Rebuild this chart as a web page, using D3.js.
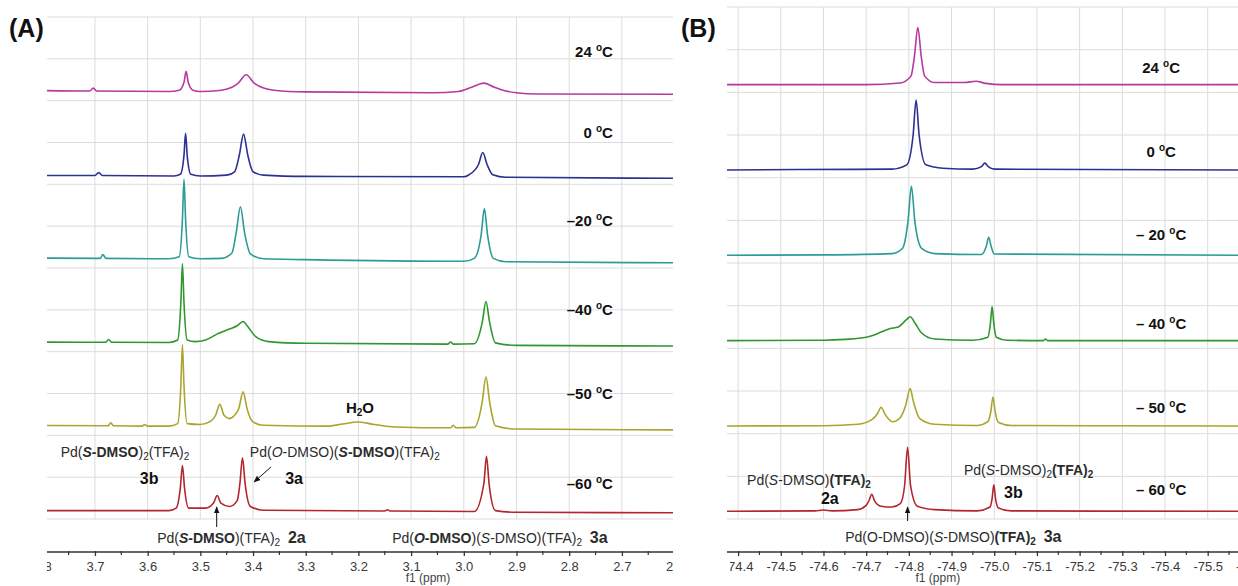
<!DOCTYPE html>
<html>
<head>
<meta charset="utf-8">
<script src="https://cdn.jsdelivr.net/npm/d3@7"></script>
<style>
body { margin: 0; background: #fff; }
svg { display: block; font-family: "Liberation Sans", Arial, sans-serif; }
text { white-space: pre; }
</style>
</head>
<body>
<svg id="chart" width="1238" height="586"></svg>
<script>
// rows, top to bottom
const tempsA = ["24 ", "0 ", "–20 ", "–40 ", "–50 ", "–60 "]
const tempsB = ["24 ", "0 ", "– 20 ", "– 40 ", "– 50 ", "– 60 "]
const colors = ["#b53a9c", "#2c3093", "#2b9b97", "#2f972f", "#a9a52d", "#b3262e"]

// ppm window of each panel
const rangeA = [3.791, 2.603]
const rangeB = [-74.374, -75.571]

const ticksA = [3.8, 3.7, 3.6, 3.5, 3.4, 3.3, 3.2, 3.1, 3.0, 2.9, 2.8, 2.7, 2.6]
const tickLabelsA = ["3.8", "3.7", "3.6", "3.5", "3.4", "3.3", "3.2", "3.1", "3.0", "2.9", "2.8", "2.7", "2.6"]
const ticksB = [-74.4, -74.5, -74.6, -74.7, -74.8, -74.9, -75.0, -75.1, -75.2, -75.3, -75.4, -75.5, -75.6]
const tickLabelsB = ["-74.4", "-74.5", "-74.6", "-74.7", "-74.8", "-74.9", "-75.0", "-75.1", "-75.2", "-75.3", "-75.4", "-75.5", "-75.6"]

// (A) 1H spectra, [ppm, intensity]  (100 = one row step)
const h1_24 = [[3.791,2],[3.71,1.5],[3.703,5],[3.697,1.5],[3.56,1],[3.54,2.5],[3.531,12],[3.527,25],[3.523,12],[3.514,2.5],[3.50,1],
  [3.46,2.5],[3.44,6],[3.428,11],[3.413,21],[3.398,11],[3.38,5],[3.36,2.5],[3.30,0.5],
  [3.06,-0.5],[3.01,1],[2.985,6],[2.962,11],[2.942,6],[2.92,1.5],[2.90,-0.5],[2.86,-2],[2.603,-2.4]]
const h1_0 = [[3.791,0.5],[3.70,0.5],[3.693,4],[3.686,0.5],[3.55,0],[3.538,2],[3.531,25],[3.528,51],[3.525,25],[3.518,2],[3.50,0],
  [3.45,1],[3.435,5],[3.426,25],[3.418,50],[3.410,25],[3.40,5],[3.38,1],[3.30,-0.5],
  [3.00,-1],[2.99,1.5],[2.972,14],[2.964,28],[2.956,14],[2.945,1.5],[2.92,-1.5],[2.603,-2.7]]
const h1_m20 = [[3.791,1.8],[3.69,1.5],[3.685,6],[3.679,1.5],[3.56,1],[3.54,3.5],[3.534,48],[3.531,96],[3.528,48],[3.522,3.5],[3.50,1],
  [3.46,1.5],[3.44,8],[3.432,32],[3.424,63],[3.416,32],[3.405,7],[3.38,1],[3.30,0],
  [3.00,-2],[2.98,1.5],[2.967,30],[2.961,61],[2.955,30],[2.944,1.5],[2.92,-2.5],[2.603,-3.8]]
const h1_m40 = [[3.791,1.4],[3.68,1.2],[3.674,4.5],[3.668,1.2],[3.56,1],[3.543,4],[3.537,48],[3.534,95],[3.531,48],[3.525,4],[3.51,2],
  [3.49,4],[3.465,12],[3.445,17],[3.43,21],[3.419,26],[3.41,20],[3.395,8],[3.37,2],[3.30,0],
  [3.03,-1],[3.025,1.5],[3.02,-1],[2.98,-0.5],[2.965,25],[2.958,50],[2.951,25],[2.94,0.5],[2.90,-2.5],[2.603,-3.2]]
const h1_m50 = [[3.791,1.8],[3.675,1.5],[3.67,5],[3.665,1.5],[3.61,1],[3.606,3],[3.60,1],[3.56,1],[3.543,4],[3.537,49],[3.534,98],[3.531,49],[3.525,4],[3.50,3],
  [3.48,7],[3.471,14],[3.463,27],[3.455,14],[3.445,10],[3.435,14],[3.427,22],[3.419,42],[3.411,21],[3.40,6],[3.38,2],
  [3.26,1],[3.23,3.5],[3.202,6],[3.17,3],[3.13,0],
  [3.025,-1],[3.02,2],[3.015,-1],[2.98,-0.5],[2.965,30],[2.958,60],[2.951,30],[2.94,1.5],[2.90,-2.5],[2.603,-3.5]]
const h1_m60 = [[3.791,0],[3.56,0],[3.546,3],[3.538,27],[3.534,54],[3.530,27],[3.522,3],
  [3.49,3],[3.475,9],[3.468,18],[3.461,9],[3.445,5],[3.43,12],[3.425,32],[3.42,63],[3.415,32],[3.405,5],[3.38,0.5],
  [3.15,-0.5],[3.145,1],[3.14,-0.5],[2.98,-1],[2.962,32],[2.957,65],[2.952,32],[2.94,0],[2.90,-2],[2.603,-2.5]]

// (B) 19F spectra, [ppm, intensity]
const f19_24 = [[-74.374,0],[-74.70,0],[-74.78,2],[-74.805,10],[-74.813,33],[-74.821,67],[-74.829,33],[-74.837,10],[-74.86,2.5],
  [-74.88,2.5],[-74.93,2.5],[-74.957,4],[-74.98,1.5],[-75.02,0],[-75.571,0]]
const f19_0 = [[-74.374,0],[-74.54,0.5],[-74.76,1],[-74.795,6],[-74.81,41],[-74.817,82],[-74.824,41],[-74.84,6],[-74.88,2],
  [-74.95,1],[-74.97,4],[-74.978,8],[-74.986,4],[-75.00,1],[-75.571,0]]
const f19_m20 = [[-74.374,0],[-74.60,0.5],[-74.76,2],[-74.785,8],[-74.798,40],[-74.806,81],[-74.814,40],[-74.83,8],[-74.86,2],
  [-74.97,1],[-74.981,10],[-74.987,21],[-74.993,10],[-75.00,1.5],[-75.571,0]]
const f19_m40 = [[-74.374,0],[-74.60,0.5],[-74.65,1.5],[-74.70,4],[-74.735,10],[-74.755,14],[-74.775,16],[-74.795,25],[-74.803,28],[-74.815,20],[-74.83,9],[-74.86,2],
  [-74.95,0.5],[-74.985,4],[-74.991,20],[-74.995,40],[-74.999,20],[-75.005,4],[-75.03,0.5],[-75.115,0],[-75.12,2],[-75.125,0],[-75.571,0]]
const f19_m50 = [[-74.374,0],[-74.60,0.3],[-74.68,2],[-74.715,8],[-74.727,15],[-74.735,22],[-74.745,13],[-74.762,5],[-74.78,10],[-74.793,25],[-74.803,44],[-74.81,30],[-74.825,9],[-74.86,2],
  [-74.96,0.5],[-74.985,5],[-74.992,17],[-74.997,34],[-75.002,17],[-75.01,4],[-75.04,0.5],[-75.571,0]]
const f19_m60 = [[-74.374,0],[-74.58,0.5],[-74.60,1.5],[-74.62,0.5],[-74.68,2],[-74.700,7],[-74.707,13],[-74.713,20],[-74.72,12],[-74.735,6],[-74.76,5],[-74.78,9],[-74.790,30],[-74.797,75],[-74.804,30],[-74.82,6],[-74.86,2],
  [-74.96,0.5],[-74.99,5],[-74.995,15],[-74.999,31],[-75.003,15],[-75.01,4],[-75.04,0.5],[-75.571,0]]

const spectraA = [h1_24, h1_0, h1_m20, h1_m40, h1_m50, h1_m60]
const spectraB = [f19_24, f19_0, f19_m20, f19_m40, f19_m50, f19_m60]

const svg = d3.select("#chart")
const axisY = 552

function rich(sel, x, y, anchor, parts, size, fill) {
    const t = sel.append("text").attr("x", x).attr("y", y)
        .attr("text-anchor", anchor).attr("font-size", size).attr("fill", fill || "#2b2b2b")
    let shift = 0
    parts.forEach(p => {
        const s = p[0], f = p[1]
        const sp = t.append("tspan").text(s)
        let want = 0
        if (f.includes("s")) { want = 3; sp.attr("font-size", 10) }
        if (f.includes("u")) { want = -6; sp.attr("font-size", 10) }
        if (f.includes("L")) sp.attr("font-size", 16)
        if (want !== shift) { sp.attr("dy", want - shift); shift = want }
        if (f.includes("b")) sp.attr("font-weight", "bold")
        if (f.includes("i")) sp.attr("font-style", "italic")
    })
    return t
}

const defs = svg.append("defs")
defs.append("marker")
    .attr("id", "head").attr("viewBox", "0 0 10 10").attr("refX", 9).attr("refY", 5)
    .attr("markerWidth", 7).attr("markerHeight", 7).attr("orient", "auto-start-reverse")
    .append("path").attr("d", "M0,1 L10,5 L0,9 Z").attr("fill", "#111")

function panel(cfg) {
    const x = d3.scaleLinear().domain(cfg.range).range([cfg.x0, cfg.x1])
    const y = d3.scaleLinear().domain([0, 6]).range([cfg.yTop, 519])
    const g = svg.append("g")

    const clipId = "clip" + cfg.name
    defs.append("clipPath").attr("id", clipId)
        .append("rect").attr("x", cfg.x0).attr("y", 0).attr("width", cfg.x1 - cfg.x0).attr("height", 586)
    defs.append("clipPath").attr("id", clipId + "t")
        .append("rect").attr("x", cfg.x0 + cfg.labelCut).attr("y", -10).attr("width", cfg.x1 - cfg.x0).attr("height", 60)

    // grid
    const inside = cfg.ticks.filter(t => x(t) > cfg.x0 + 1 && x(t) < cfg.x1 - 1)
    g.selectAll(".vg").data(inside).join("line")
        .attr("x1", d => x(d)).attr("x2", d => x(d)).attr("y1", y(0)).attr("y2", y(6))
        .attr("stroke", "#dcdcdc").attr("stroke-width", 1)
    g.selectAll(".hg").data(d3.range(0, 6.01, 0.5)).join("line")
        .attr("x1", cfg.x0).attr("x2", cfg.x1).attr("y1", d => y(d)).attr("y2", d => y(d))
        .attr("stroke", "#dcdcdc").attr("stroke-width", 1)

    // spectra
    cfg.spectra.forEach((sp, i) => {
        const line = d3.line()
            .x(d => x(d[0]))
            .y(d => y(i + cfg.base - d[1] / 100))
            .curve(d3.curveMonotoneX)
        const pts = sp.slice().sort((a, b) => x(a[0]) - x(b[0]))
        g.append("path").attr("d", line(pts)).attr("fill", "none")
            .attr("stroke", colors[i]).attr("stroke-width", 1.6).attr("stroke-linejoin", "round")
            .attr("clip-path", `url(#${clipId})`)
    })

    // temperature labels
    cfg.temps.forEach((t, i) => {
        rich(g, x(cfg.labelPpm), cfg.labelY[i] + 5, cfg.labelAnchor,
            [[t, "b"], ["o", "bu"], ["C", "b"]], 15, "#111")
    })

    // axis
    const ax = svg.append("g").attr("transform", `translate(0,${axisY})`)
    ax.append("line").attr("x1", cfg.x0).attr("x2", cfg.x1)
        .attr("stroke", "#333").attr("stroke-width", 1.6)
    const minor = cfg.ticks.map(t => t + cfg.step / 2).filter(t => x(t) > cfg.x0 && x(t) < cfg.x1)
    ax.selectAll(".mt").data(minor).join("line")
        .attr("x1", d => x(d)).attr("x2", d => x(d)).attr("y1", -1).attr("y2", 3)
        .attr("stroke", "#333").attr("stroke-width", 1.2)
    const axg = ax.append("g").attr("clip-path", `url(#${clipId}t)`)
    axg.call(d3.axisBottom(x).tickValues(cfg.ticks)
        .tickFormat((d, i) => cfg.tickLabels[i]).tickSize(4).tickSizeOuter(0).tickPadding(6))
    axg.select(".domain").remove()
    axg.selectAll(".tick line").attr("stroke", "#333").attr("stroke-width", 1.3).attr("y1", -1)
    axg.selectAll(".tick text").attr("font-size", 13).attr("fill", "#3a3a3a")
        .attr("font-family", "\"Liberation Sans\", Arial, sans-serif")
    svg.append("text").attr("x", x(cfg.unitPpm)).attr("y", 582).attr("text-anchor", "middle")
        .attr("font-size", 12).attr("fill", "#444").text("f1 (ppm)")

    return { x, y, g }
}

const A = panel({
    name: "A", range: rangeA, x0: 47, x1: 673, yTop: 17, base: 0.9, labelCut: 0,
    ticks: ticksA, tickLabels: tickLabelsA, step: -0.1,
    spectra: spectraA, temps: tempsA,
    labelPpm: 2.717, labelAnchor: "end", labelY: [52, 133, 221, 310, 394, 484],
    unitPpm: 3.068
})
const B = panel({
    name: "B", range: rangeB, x0: 727, x1: 1238, yTop: 7, base: 0.91, labelCut: 3,
    ticks: ticksB, tickLabels: tickLabelsB, step: -0.1,
    spectra: spectraB, temps: tempsB,
    labelPpm: -75.391, labelAnchor: "middle", labelY: [68, 152, 235, 324, 408, 490],
    unitPpm: -74.868
})

// panel letters
svg.append("text").attr("x", 9).attr("y", 37).attr("font-size", 25).attr("font-weight", "bold")
    .attr("fill", "#111").text("(A)")
svg.append("text").attr("x", 681).attr("y", 37).attr("font-size", 25).attr("font-weight", "bold")
    .attr("fill", "#111").text("(B)")

// annotations (A)
rich(A.g, A.x(3.765), 457, "start", [["Pd(", ""], ["S", "bi"], ["-DMSO", "b"], [")", ""], ["2", "s"], ["(TFA)", ""], ["2", "s"]], 14)
rich(A.g, A.x(3.406), 457, "start", [["Pd(", ""], ["O", "i"], ["-DMSO)(", ""], ["S", "bi"], ["-DMSO", "b"], [")(TFA)", ""], ["2", "s"]], 14)
rich(A.g, A.x(3.615), 484, "start", [["3b", "b"]], 16, "#111")
rich(A.g, A.x(3.339), 484, "start", [["3a", "b"]], 16, "#111")
rich(A.g, A.x(3.197), 413, "middle", [["H", "b"], ["2", "bs"], ["O", "b"]], 15, "#111")
rich(A.g, A.x(3.582), 543, "start", [["Pd(", ""], ["S", "bi"], ["-DMSO", "b"], [")(TFA)", ""], ["2", "s"], ["  ", ""], ["2a", "bL"]], 14)
rich(A.g, A.x(3.136), 543, "start", [["Pd(", ""], ["O", "bi"], ["-DMSO", "b"], [")(", ""], ["S", "i"], ["-DMSO)(TFA)", ""], ["2", "s"], ["  ", ""], ["3a", "bL"]], 14)
A.g.append("line").attr("x1", A.x(3.366)).attr("y1", 467).attr("x2", A.x(3.398)).attr("y2", 482)
    .attr("stroke", "#111").attr("stroke-width", 1).attr("marker-end", "url(#head)")
A.g.append("line").attr("x1", A.x(3.469)).attr("y1", 527).attr("x2", A.x(3.469)).attr("y2", 507)
    .attr("stroke", "#111").attr("stroke-width", 1).attr("marker-end", "url(#head)")

// annotations (B)
rich(B.g, B.x(-74.421), 485, "start", [["Pd(", ""], ["S", "i"], ["-DMSO)", ""], ["(TFA)", "b"], ["2", "bs"]], 14)
rich(B.g, B.x(-74.594), 504, "start", [["2a", "b"]], 16, "#111")
rich(B.g, B.x(-74.929), 475, "start", [["Pd(", ""], ["S", "i"], ["-DMSO)", ""], ["2", "s"], ["(TFA)", "b"], ["2", "bs"]], 14)
rich(B.g, B.x(-75.023), 498, "start", [["3b", "b"]], 16, "#111")
rich(B.g, B.x(-74.651), 542, "start", [["Pd(O-DMSO)(", ""], ["S", "i"], ["-DMSO)", ""], ["(TFA)", "b"], ["2", "bs"], ["  ", ""], ["3a", "bL"]], 14)
B.g.append("line").attr("x1", B.x(-74.797)).attr("y1", 521).attr("x2", B.x(-74.797)).attr("y2", 507)
    .attr("stroke", "#111").attr("stroke-width", 1).attr("marker-end", "url(#head)")
</script>
</body>
</html>
